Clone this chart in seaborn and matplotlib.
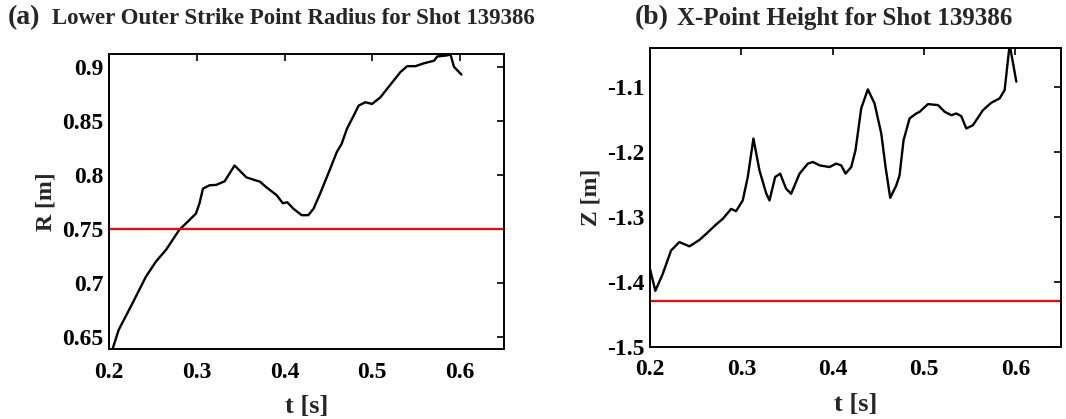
import numpy as np
import pandas as pd
import matplotlib
matplotlib.use("Agg")
import matplotlib.pyplot as plt
import seaborn as sns

# ---- data ----
t_a = [0.204, 0.211, 0.2267, 0.242, 0.2534, 0.265, 0.280, 0.2897, 0.299, 0.303,
       0.307, 0.3145, 0.322, 0.3317, 0.343, 0.3565, 0.364, 0.372, 0.379, 0.391,
       0.398, 0.403, 0.410, 0.4195, 0.427, 0.433, 0.4405, 0.452, 0.4595, 0.465,
       0.471, 0.4786, 0.4844, 0.492, 0.4996, 0.509, 0.5187, 0.532, 0.5397, 0.549,
       0.5588, 0.5702, 0.574, 0.5855, 0.589, 0.593, 0.6015]
r_a = [0.639, 0.6568, 0.6814, 0.706, 0.720, 0.731, 0.7494, 0.757, 0.7645, 0.7738,
       0.7876, 0.7907, 0.791, 0.7944, 0.809, 0.798, 0.796, 0.794, 0.789, 0.7815,
       0.774, 0.775, 0.769, 0.763, 0.763, 0.769, 0.783, 0.806, 0.8215, 0.829,
       0.843, 0.855, 0.8645, 0.8676, 0.866, 0.872, 0.882, 0.8955, 0.901, 0.901,
       0.9037, 0.906, 0.910, 0.911, 0.912, 0.9004, 0.8932]
ref_a = 0.75

t_b = [0.200, 0.2058, 0.2139, 0.223, 0.2321, 0.2431, 0.254, 0.2614, 0.2723, 0.2796,
       0.2888, 0.2942, 0.3015, 0.307, 0.3132, 0.3198, 0.3271, 0.3308, 0.337, 0.3425,
       0.349, 0.3545, 0.3637, 0.3728, 0.3783, 0.3856, 0.3965, 0.4038, 0.4093, 0.4141,
       0.4203, 0.425, 0.4312, 0.4385, 0.4458, 0.4532, 0.4579, 0.463, 0.4696, 0.4732,
       0.4776, 0.4842, 0.4915, 0.4952, 0.5043, 0.5153, 0.5226, 0.530, 0.5354, 0.5408,
       0.5463, 0.5536, 0.5646, 0.5737, 0.5828, 0.5883, 0.5938, 0.6011]
z_b = [-1.3806, -1.414, -1.388, -1.352, -1.339, -1.3456, -1.3358, -1.3265, -1.312, -1.3033,
       -1.288, -1.2915, -1.275, -1.239, -1.1798, -1.2287, -1.2637, -1.275, -1.239, -1.2338,
       -1.257, -1.2647, -1.2338, -1.2184, -1.2158, -1.221, -1.2236, -1.2184, -1.221, -1.2338,
       -1.2236, -1.1978, -1.1335, -1.1041, -1.1257, -1.172, -1.2236, -1.271, -1.2519, -1.2364,
       -1.1824, -1.1489, -1.1412, -1.1386, -1.1268, -1.1283, -1.1386, -1.1438, -1.1412, -1.1453,
       -1.1643, -1.1592, -1.136, -1.1247, -1.118, -1.1051, -1.035, -1.0923]
ref_b = -1.43

xticks = [0.2, 0.3, 0.4, 0.5, 0.6]
yticks_a = [0.65, 0.7, 0.75, 0.8, 0.85, 0.9]
yticks_b = [-1.5, -1.4, -1.3, -1.2, -1.1]

sns.set_theme(style="white")
plt.rcParams['font.family'] = ['Liberation Serif', 'DejaVu Serif']
plt.rcParams['font.weight'] = 'bold'

fig = plt.figure(figsize=(10.66, 4.19), dpi=100)
ax1 = fig.add_axes([0.1023, 0.167, 0.3705, 0.7034])
ax2 = fig.add_axes([0.6098, 0.1725, 0.3855, 0.7137])

df_a = pd.DataFrame({"t": t_a, "R": r_a})
df_b = pd.DataFrame({"t": t_b, "Z": z_b})

sns.lineplot(data=df_a, x="t", y="R", ax=ax1, color="black", linewidth=1.7, sort=False)
ax1.axhline(ref_a, color="#ff0000", linewidth=1.6)
sns.lineplot(data=df_b, x="t", y="Z", ax=ax2, color="black", linewidth=1.7, sort=False)
ax2.axhline(ref_b, color="#ff0000", linewidth=1.6)

ax1.set_xlim(0.2, 0.65)
ax1.set_ylim(0.639, 0.912)
ax2.set_xlim(0.2, 0.65)
ax2.set_ylim(-1.5, -1.04)

for ax, yt, ylab in [(ax1, yticks_a, "R [m]"), (ax2, yticks_b, "Z [m]")]:
    ax.set_xticks(xticks)
    ax.set_xticklabels([f"{v:g}" for v in xticks])
    ax.set_yticks(yt)
    ax.set_yticklabels([f"{v:g}" for v in yt])
    ax.tick_params(direction="in", length=5, width=1.2, top=True, right=True,
                   labelsize=17, colors="black")
    ax.tick_params(axis="x", pad=9)
    ax.tick_params(axis="y", pad=4)
    for lbl in ax.get_xticklabels() + ax.get_yticklabels():
        lbl.set_fontweight("bold")
    for sp in ax.spines.values():
        sp.set_visible(True)
        sp.set_color("black")
        sp.set_linewidth(1.4)
    ax.set_xlabel("t [s]", fontsize=19, fontweight="bold", labelpad=9)
    ax.set_ylabel(ylab, fontsize=17, fontweight="bold", labelpad=4)
    ax.grid(False)

fig.text(0.007, 0.957, "(a)", fontsize=20, fontweight="bold", va="center", ha="left")
fig.text(0.049, 0.955, "Lower Outer Strike Point Radius for Shot 139386",
         fontsize=16.5, fontweight="bold", va="center", ha="left")
fig.text(0.595, 0.957, "(b)", fontsize=20, fontweight="bold", va="center", ha="left")
fig.text(0.635, 0.955, "X-Point Height for Shot 139386",
         fontsize=18, fontweight="bold", va="center", ha="left")

fig.savefig("out.png", dpi=100, facecolor="white")
